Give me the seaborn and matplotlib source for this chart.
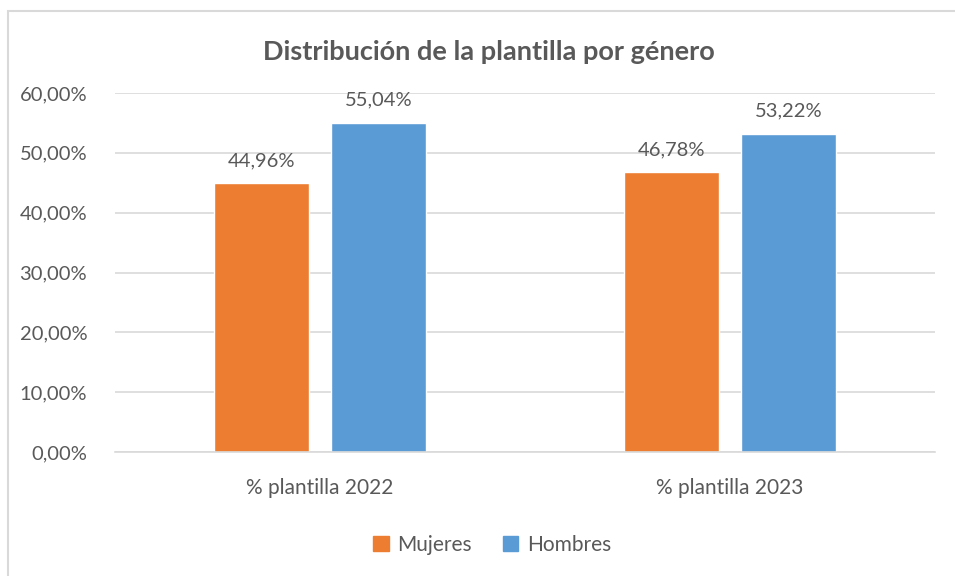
import matplotlib.pyplot as plt
import matplotlib.patches as mpatches
import seaborn as sns
import pandas as pd

# Data
categories = ['% plantilla 2022', '% plantilla 2023']
mujeres = [0.4496, 0.4678]
hombres = [0.5504, 0.5322]
series = ['Mujeres', 'Hombres']
colors = ['#ED7D31', '#5B9BD5']
yticks = [0.0, 0.1, 0.2, 0.3, 0.4, 0.5, 0.6]

df = pd.DataFrame({
    'categoria': categories * 2,
    'serie': ['Mujeres'] * 2 + ['Hombres'] * 2,
    'valor': mujeres + hombres,
})

sns.set_theme(style="white")
plt.rcParams['font.family'] = ['Lato', 'DejaVu Sans']
text_color = '#595959'

fig = plt.figure(figsize=(9.55, 5.76), dpi=100)
ax = fig.add_axes([115 / 955, 1 - 452 / 576, 820 / 955, (452 - 93) / 576])

sns.barplot(data=df, x='categoria', y='valor', hue='serie', hue_order=series,
            palette=colors, width=0.57, gap=0.19, ax=ax, legend=False,
            saturation=1, errorbar=None)

ax.set_ylim(0, 0.6)
ax.set_xlim(-0.5, 1.5)
ax.set_yticks(yticks)
ax.set_yticklabels([f"{v * 100:.2f}".replace('.', ',') + '%' for v in yticks],
                   fontsize=14.5, color=text_color)
ax.set_xticklabels(categories, fontsize=15, color=text_color)
ax.tick_params(axis='y', length=0, pad=20)
ax.tick_params(axis='x', length=0, pad=19)
ax.set_xlabel('')
ax.set_ylabel('')
ax.grid(axis='y', color='#D9D9D9', linewidth=1.2)
ax.set_axisbelow(True)
for side in ['top', 'right', 'left']:
    ax.spines[side].set_visible(False)
ax.spines['bottom'].set_color('#D9D9D9')
ax.spines['bottom'].set_linewidth(1.2)

for container in ax.containers:
    ax.bar_label(container,
                 labels=[f"{b.get_height() * 100:.2f}".replace('.', ',') + '%' for b in container],
                 padding=10, fontsize=14.5, color=text_color)

fig.text(489 / 955, 1 - 52 / 576, 'Distribución de la plantilla por género',
         ha='center', va='center', fontsize=19.5, fontweight='bold', color=text_color)

handles = [mpatches.Patch(color=c, label=s) for c, s in zip(colors, series)]
fig.legend(handles=handles, loc='center', bbox_to_anchor=(492 / 955, 1 - 545 / 576),
           ncol=2, frameon=False, fontsize=15, handlelength=0.75, handleheight=0.75,
           handletextpad=0.4, columnspacing=1.5, labelcolor=text_color)

# Outer chart border (runs off the right and bottom edges)
fig.patches.append(mpatches.Rectangle((8 / 955, -0.1), 1.2, 1.1 - 11 / 576,
                                      transform=fig.transFigure, fill=False,
                                      edgecolor='#D9D9D9', linewidth=1.5))

fig.savefig('out.png', dpi=100)
